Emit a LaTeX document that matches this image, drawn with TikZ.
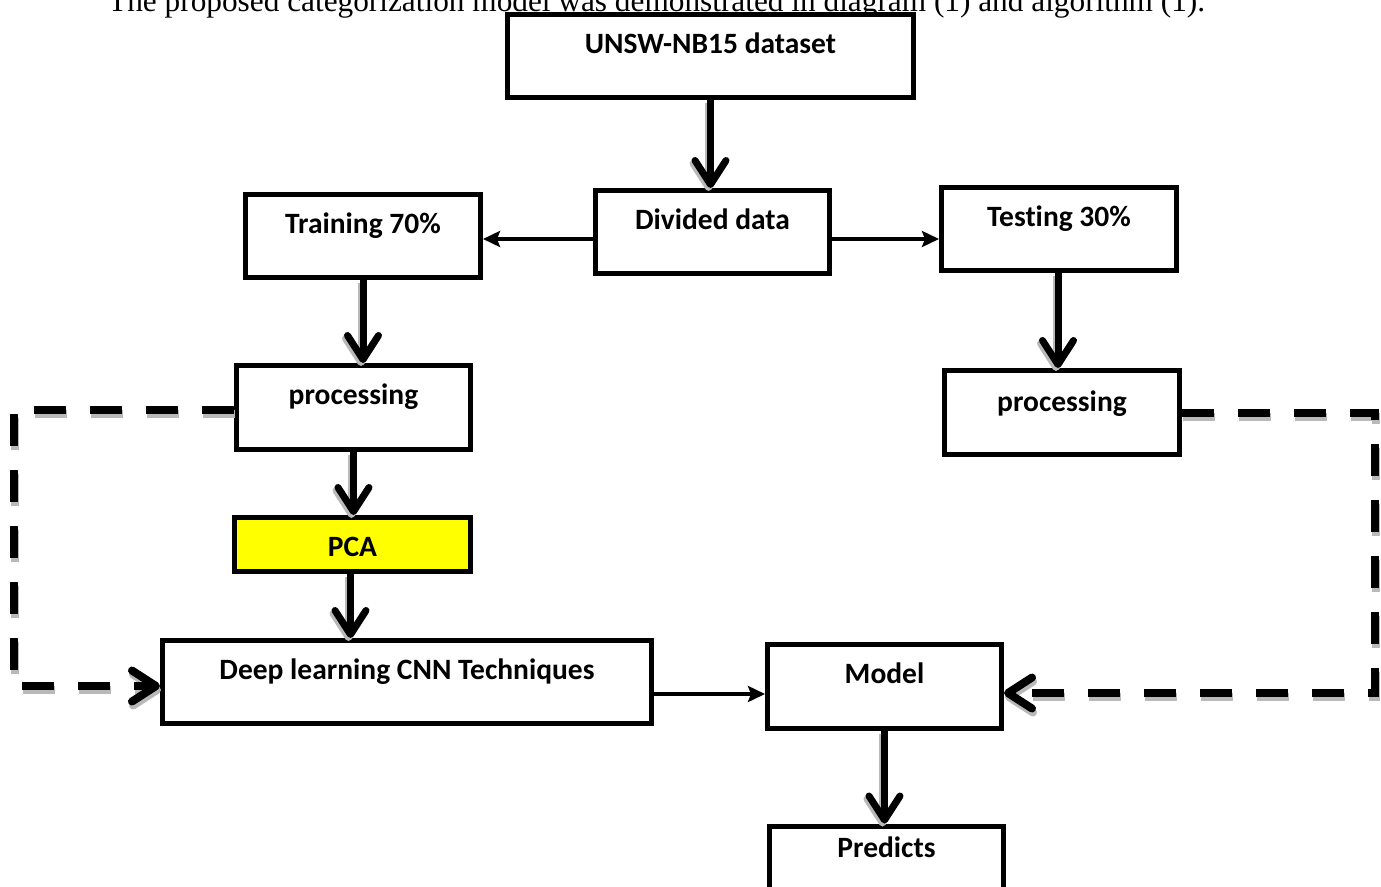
\documentclass[tikz,border=0pt]{standalone}
\usepackage{fontspec}
\setmainfont{Carlito}[Ligatures=NoCommon]
\newfontfamily\capfont{Liberation Serif}
\usetikzlibrary{arrows.meta,calc}
\definecolor{pcayellow}{RGB}{255,255,0}
\tikzset{
  box/.style n args={3}{draw, line width=5pt, fill=white, inner sep=0pt,
    minimum width=#1, text height=#2, text depth=#3,
    font=\fontsize{29.5}{34}\selectfont\bfseries},
  bigtip/.style={-{Straight Barb[length=24pt,width=31pt,round]}},
  thickarr/.style={line width=7pt, bigtip},
  thinarr/.style={line width=4.5pt, -{Stealth[length=17pt,width=16pt,inset=3pt]}},
  dsh/.style={line width=8pt, dash pattern=on 32pt off 24pt},
  shad/.style={draw=gray!55, transform canvas={xshift=-2pt,yshift=-3pt}},
  dshad/.style={draw=gray!55, transform canvas={xshift=1pt,yshift=-4pt}},
}
\begin{document}
\begin{tikzpicture}[x=1pt,y=-1pt]
\useasboundingbox[fill=white] (0,0) rectangle (1381,886);
\clip (0,0) rectangle (1381,886);

\node[font=\capfont\fontsize{31.3}{32}\selectfont, anchor=base west, inner sep=0pt] (cap) at (108,12)
  {The proposed categorization model was demonstrated in diagram (1) and algorithm (1).};

% boxes
\node[box={406pt}{38.5pt}{44.5pt}] (ud) at (710.5,56) {UNSW-NB15 dataset};
\node[box={234pt}{38.5pt}{44.5pt}] (div) at (712.5,232) {Divided data};
\node[box={235pt}{38.5pt}{44.5pt}] (train) at (363,236) {Training 70\%};
\node[box={235pt}{38.5pt}{44.5pt}] (test) at (1059,229) {Testing 30\%};
\node[box={234pt}{38.5pt}{45.5pt}] (pL) at (353.5,407.5) {processing};
\node[box={235pt}{40.5pt}{43.5pt}] (pR) at (1062,412.5) {processing};
\node[box={236pt}{38.5pt}{15.5pt}, fill=pcayellow] (pca) at (352.5,544.5) {PCA};
\node[box={489pt}{38.5pt}{44.5pt}] (deep) at (407,682) {Deep learning CNN Techniques};
\node[box={234pt}{38.5pt}{45.5pt}] (model) at (884.5,686.5) {Model};
\node[box={234pt}{31pt}{45pt}] (pred) at (886.5,864) {Predicts};

% dashed loop coordinates
\coordinate (lc1) at (14,410);
\coordinate (lc2) at (14,686);
\coordinate (rc1) at (1375,413);
\coordinate (rc2) at (1375,693);

% shadows
\draw[thickarr, shad] (ud.south) -- (ud.south |- div.north);
\draw[thickarr, shad] (train.south) -- (train.south |- pL.north);
\draw[thickarr, shad] ([xshift=-1pt]test.south) -- ([xshift=-1pt]test.south |- pR.north);
\draw[thickarr, shad] (pL.south) -- (pL.south |- pca.north);
\draw[thickarr, shad] ([xshift=-2pt]pca.south) -- ([xshift=-2pt]pca.south |- deep.north);
\draw[thickarr, shad] (model.south) -- (model.south |- pred.north);
\draw[dsh, bigtip, dshad] (pL.west |- lc1) -- (lc1) -- (lc2) -- (deep.west |- lc2);
\draw[dsh, bigtip, dshad] (pR.east |- rc1) -- (rc1) -- (rc2) -- (model.east |- rc2);

% connectors
\draw[thickarr] (ud.south) -- (ud.south |- div.north);
\draw[thickarr] (train.south) -- (train.south |- pL.north);
\draw[thickarr] ([xshift=-1pt]test.south) -- ([xshift=-1pt]test.south |- pR.north);
\draw[thickarr] (pL.south) -- (pL.south |- pca.north);
\draw[thickarr] ([xshift=-2pt]pca.south) -- ([xshift=-2pt]pca.south |- deep.north);
\draw[thickarr] (model.south) -- (model.south |- pred.north);
\draw[thinarr] ($(div.west)+(0,7)$) -- ($(train.east |- div.west)+(0,7)$);
\draw[thinarr] ($(div.east)+(0,7)$) -- ($(test.west |- div.east)+(0,7)$);
\draw[thinarr] ($(deep.east)+(0,12)$) -- ($(model.west |- deep.east)+(0,12)$);
\draw[dsh, bigtip] (pL.west |- lc1) -- (lc1) -- (lc2) -- (deep.west |- lc2);
\draw[dsh, bigtip] (pR.east |- rc1) -- (rc1) -- (rc2) -- (model.east |- rc2);
\end{tikzpicture}
\end{document}
